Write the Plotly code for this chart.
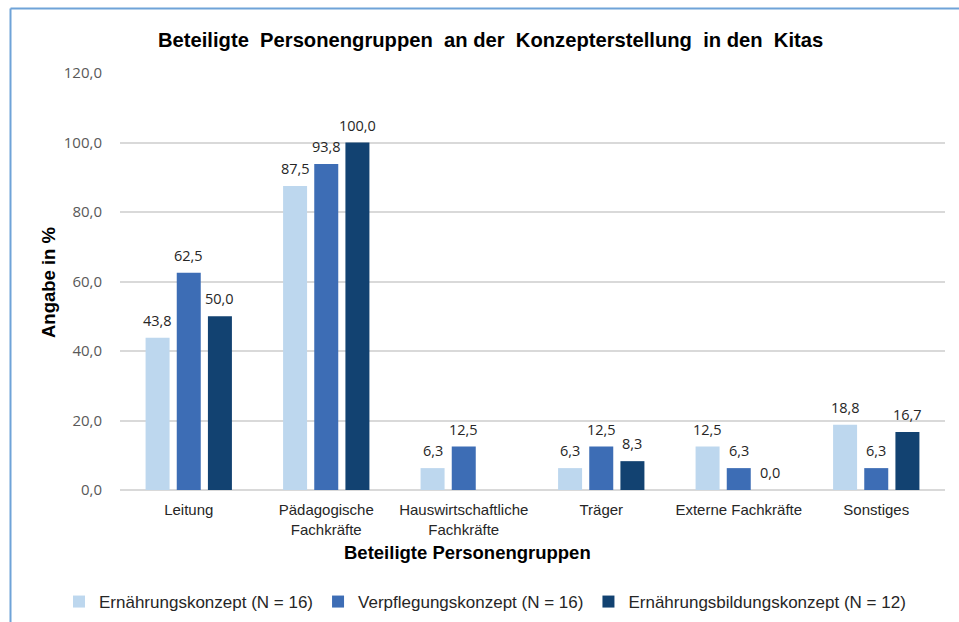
import plotly.graph_objects as go

categories = ["Leitung", "Pädagogische<br>Fachkräfte", "Hauswirtschaftliche<br>Fachkräfte",
              "Träger", "Externe Fachkräfte", "Sonstiges"]
series_names = ["Ernährungskonzept (N = 16)", "Verpflegungskonzept (N = 16)",
                "Ernährungsbildungskonzept (N = 12)"]
ernaehrung = [43.8, 87.5, 6.3, 6.3, 12.5, 18.8]
verpflegung = [62.5, 93.8, 12.5, 12.5, 6.3, 6.3]
bildung = [50.0, 100.0, None, 8.3, 0.0, 16.7]
colors = ["#BDD7EE", "#3D6DB5", "#124271"]
y_ticks = [0, 20, 40, 60, 80, 100, 120]

W, H = 959, 622
L, R, T, B = 120, 14, 73, 132
BARGAP, GROUPGAP = 0.32, 0.23

pw = W - L - R
ph = H - T - B
def px_x(p):
    return (p - L) / pw
def px_y(p):
    return (H - B - p) / ph

fig = go.Figure()
all_series = [ernaehrung, verpflegung, bildung]
for name, vals, col in zip(series_names, all_series, colors):
    fig.add_trace(go.Bar(x=categories, y=vals, name=name,
                         marker=dict(color=col, line=dict(width=0))))

# data labels above bars
slot = pw / len(categories) * (1 - BARGAP) / len(all_series)
annotations = []
for si, vals in enumerate(all_series):
    for cat, v in zip(categories, vals):
        if v is None:
            continue
        annotations.append(dict(
            x=cat, y=v, xref="x", yref="y", text=f"{v:.1f}".replace(".", ","),
            showarrow=False, xanchor="center", yanchor="bottom",
            xshift=(si - 1) * slot, yshift=6,
            font=dict(family="Open Sans, Liberation Sans", size=14.5, color="#262626")))

annotations += [
    dict(text="<b>Beteiligte  Personengruppen  an der  Konzepterstellung  in den  Kitas</b>",
         xref="paper", yref="paper", x=px_x(490), y=px_y(40), xanchor="center", yanchor="middle",
         showarrow=False, font=dict(family="Liberation Sans, Arial", size=20.2, color="black")),
    dict(text="<b>Angabe in %</b>", xref="paper", yref="paper", x=px_x(48), y=px_y(283),
         xanchor="center", yanchor="middle", textangle=-90, showarrow=False,
         font=dict(family="Liberation Sans, Arial", size=18.5, color="black")),
    dict(text="<b>Beteiligte Personengruppen</b>", xref="paper", yref="paper",
         x=px_x(467), y=px_y(552), xanchor="center", yanchor="middle", showarrow=False,
         font=dict(family="Liberation Sans, Arial", size=18.5, color="black")),
]

fig.update_layout(
    width=W, height=H,
    margin=dict(l=L, r=R, t=T, b=B, autoexpand=False),
    paper_bgcolor="white", plot_bgcolor="white",
    separators=",.",
    barmode="group", bargap=BARGAP, bargroupgap=GROUPGAP,
    font=dict(family="Liberation Sans, Arial", size=15, color="#262626"),
    showlegend=True,
    legend=dict(orientation="h", xref="paper", yref="paper",
                x=px_x(59), xanchor="left", y=px_y(602), yanchor="middle",
                font=dict(family="Liberation Sans, Arial", size=17, color="#262626"),
                itemwidth=30, traceorder="normal"),
    xaxis=dict(showgrid=False, showline=False, ticks="", ticklabelstandoff=9,
               tickfont=dict(family="Liberation Sans, Arial", size=15, color="#262626")),
    yaxis=dict(range=[0, 120], tickvals=y_ticks, tickformat=".1f", showgrid=True,
               gridcolor="#D9D9D9", gridwidth=1.5, zeroline=True, zerolinecolor="#D9D9D9",
               zerolinewidth=1.5, showline=False, ticks="", ticklabelstandoff=17,
               tickfont=dict(family="Open Sans, Liberation Sans", size=15, color="#595959")),
    annotations=annotations,
    shapes=[
        dict(type="line", xref="paper", yref="paper", x0=px_x(10.5), x1=px_x(10.5),
             y0=px_y(8.5), y1=px_y(640), line=dict(color="#6FA3D8", width=2)),
        dict(type="line", xref="paper", yref="paper", x0=px_x(10.5), x1=px_x(980),
             y0=px_y(8.5), y1=px_y(8.5), line=dict(color="#6FA3D8", width=2)),
    ],
)

fig.write_html("out.html", config={"displayModeBar": False},
               post_script="document.body.style.margin='0px';")
